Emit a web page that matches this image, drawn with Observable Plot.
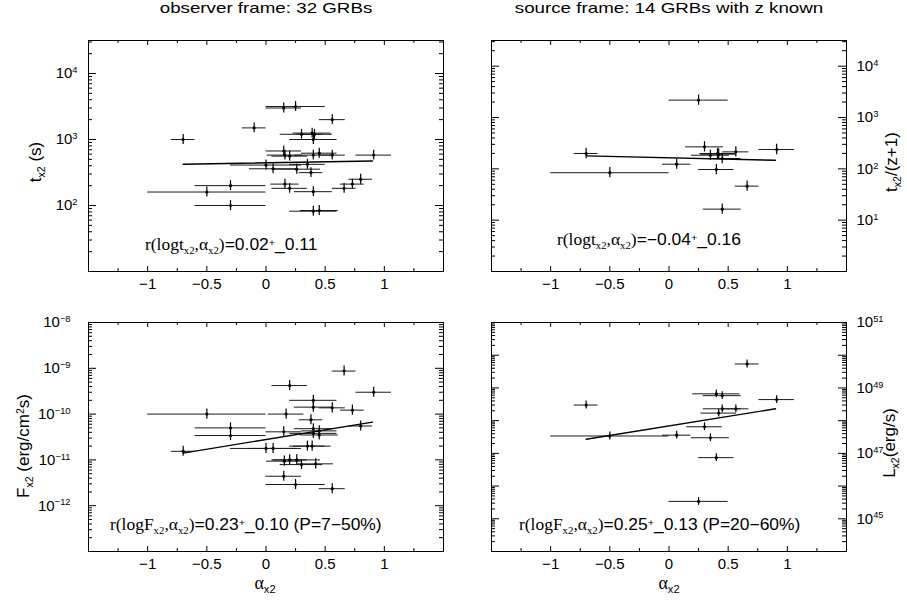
<!DOCTYPE html>
<html><head><meta charset="utf-8">
<script src="https://cdn.jsdelivr.net/npm/d3@7"></script>
<script src="https://cdn.jsdelivr.net/npm/@observablehq/plot@0.6"></script>
<style>
body{margin:0;background:#fff;}
#c{position:relative;width:907px;height:601px;overflow:hidden;font-family:"Liberation Sans",Arial,Helvetica,sans-serif;color:#000;}
.p{position:absolute;}
.t{position:absolute;white-space:nowrap;line-height:1;}
.s{font-family:"Liberation Serif","Times New Roman",serif;}
.t sub{font-size:0.62em;position:relative;vertical-align:baseline;top:0.35em;}
.t sup{font-size:0.62em;position:relative;vertical-align:baseline;top:-0.5em;}
</style></head><body><div id="c"></div>
<script>
// ---------- shared axis definitions ----------
const xDomain = [-1.5, 1.5];
const xTickLabels = [-1, -0.5, 0, 0.5, 1];
const xMinorTicks = [-1.25, -0.75, -0.25, 0.25, 0.75, 1.25];

// ---------- observer frame: t_x2 (32 GRBs) ----------
const obsAlpha    = [-0.70,-0.50,-0.30,-0.30,-0.10,0.00,0.06,0.15,0.15,0.16,0.16,0.20,0.20,0.25,0.26,0.30,0.35,0.38,0.39,0.40,0.40,0.40,0.40,0.41,0.45,0.45,0.56,0.56,0.66,0.73,0.80,0.91];
const obsAlphaErr = [0.10,0.50,0.30,0.30,0.10,0.30,0.20,0.15,0.15,0.15,0.12,0.15,0.15,0.25,0.20,0.18,0.15,0.10,0.16,0.20,0.16,0.16,0.20,0.15,0.15,0.16,0.11,0.11,0.10,0.10,0.10,0.15];
const obsTx2      = [1000,160,200,100,1500,410,360,3000,670,580,211,560,182,3160,355,1200,420,315,1250,1000,580,162,82,1200,620,84,2000,580,182,211,250,580];
const obsTFitX = [-0.70, 0.90];
const obsTFitY = [422, 473];

// ---------- observer frame: F_x2 ----------
const fluxAlpha    = [-0.70,-0.50,-0.30,-0.30,0.00,0.06,0.15,0.15,0.155,0.17,0.20,0.20,0.25,0.26,0.30,0.35,0.38,0.39,0.40,0.40,0.40,0.40,0.42,0.45,0.45,0.56,0.56,0.66,0.73,0.80,0.91];
const fluxAlphaErr = [0.10,0.50,0.30,0.30,0.30,0.20,0.15,0.15,0.15,0.15,0.15,0.15,0.25,0.20,0.18,0.15,0.10,0.16,0.20,0.16,0.16,0.20,0.15,0.15,0.16,0.11,0.11,0.10,0.10,0.10,0.15];
const fluxFx2      = [1.54e-11,1.0e-10,5.0e-11,3.4e-11,1.78e-11,1.78e-11,4.1e-11,4.4e-12,9.4e-12,1.0e-10,4.2e-10,1.0e-11,2.9e-12,1.0e-11,7.9e-12,2.0e-11,7.5e-11,2.0e-11,2.0e-10,1.42e-10,4.8e-11,3.8e-11,8.2e-12,4.3e-11,3.5e-11,1.37e-10,2.35e-12,8.7e-10,1.22e-10,5.5e-11,3.0e-10];
const fluxFitX = [-0.70, 0.90];
const fluxFitY = [1.41e-11, 6.7e-11];

// ---------- source frame: t_x2/(z+1) (14 GRBs) ----------
const srcAlpha    = [-0.70,-0.50,0.065,0.25,0.30,0.35,0.40,0.41,0.42,0.45,0.45,0.565,0.66,0.91];
const srcAlphaErr = [0.10,0.50,0.12,0.25,0.16,0.16,0.15,0.15,0.15,0.16,0.16,0.11,0.10,0.15];
const srcTx2z     = [199,84,123,2180,268,184,97,199,193,159,16.4,214,46,238];
const srcTFitX = [-0.70, 0.90];
const srcTFitY = [179, 147];

// ---------- source frame: L_x2 ----------
const lumAlpha    = [-0.70,-0.50,0.065,0.25,0.30,0.35,0.40,0.40,0.42,0.45,0.45,0.565,0.66,0.91];
const lumAlphaErr = [0.10,0.50,0.12,0.25,0.15,0.16,0.20,0.15,0.15,0.16,0.16,0.11,0.10,0.15];
const lumLx2      = [3.0e48,3.4e47,3.6e47,3.4e45,6.5e47,3.0e47,6.6e48,7.4e46,1.7e48,5.8e48,2.3e48,2.3e48,5.4e49,4.4e48];
const lumFitX = [-0.70, 0.90];
const lumFitY = [2.7e47, 2.3e48];

// y tick labels
const tObsLabels = [1e2, 1e3, 1e4];
const tSrcLabels = [1e1, 1e2, 1e3, 1e4];
const fLabels = [1e-12, 1e-11, 1e-10, 1e-9, 1e-8];
const lLabels = [1e45, 1e47, 1e49, 1e51];

const fmtX = d => d < 0 ? "\u2212" + Math.abs(d) : String(d);
const fmtPow = d => { const e = Math.round(Math.log10(d)); return "10^" + (e < 0 ? "\u2212" + (-e) : e); };

function supify(svg) {
  d3.select(svg).selectAll("text").each(function () {
    const s = this.textContent; const i = s.indexOf("^");
    if (i < 0) return;
    const el = d3.select(this); el.text(null);
    el.append("tspan").text(s.slice(0, i));
    el.append("tspan").attr("dy", "-0.55em").attr("font-size", "0.62em").text(s.slice(i + 1));
  });
}

function panel(cfg) {
  const {left, top, width, height, m, yDomain, yLabels, anchor, pad, alpha, alphaErr, yv, yErrDex, fitX, fitY} = cfg;
  const fw = width - m.left - m.right, fh = height - m.top - m.bottom;
  const rows = alpha.map((a, i) => ({a, ae: alphaErr[i], y: yv[i]}));
  const fit = fitX.map((x, i) => ({x, y: fitY[i]}));
  const lo = Math.floor(Math.log10(yDomain[0]) + 1e-9), hi = Math.ceil(Math.log10(yDomain[1]) - 1e-9);
  const yMajor = [], yMinor = [];
  for (let d = lo; d <= hi; d++) {
    const v = Math.pow(10, d);
    if (v > yDomain[0] * 1.0001 && v < yDomain[1] * 0.9999) yMajor.push(v);
    for (let k = 2; k <= 9; k++) { const w = k * v; if (w > yDomain[0] && w < yDomain[1] * 0.9999) yMinor.push(w); }
  }
  const f = 10 ** yErrDex;
  const svg = Plot.plot({
    width, height,
    marginTop: m.top, marginRight: m.right, marginBottom: m.bottom, marginLeft: m.left,
    x: {domain: xDomain, label: null},
    y: {type: "log", domain: yDomain, label: null},
    style: {background: "transparent", fontFamily: "'Liberation Sans', Arial, sans-serif", fontSize: "15px", color: "#000", overflow: "visible"},
    marks: [
      Plot.tickX(xTickLabels, {x: d => d, insetTop: fh - 5, stroke: "#000"}),
      Plot.tickX(xMinorTicks, {x: d => d, insetTop: fh - 3, stroke: "#000"}),
      Plot.tickX(xTickLabels, {x: d => d, insetBottom: fh - 5, stroke: "#000"}),
      Plot.tickX(xMinorTicks, {x: d => d, insetBottom: fh - 3, stroke: "#000"}),
      Plot.tickY(yMajor, {y: d => d, insetRight: fw - 8, stroke: "#000"}),
      Plot.tickY(yMajor, {y: d => d, insetLeft: fw - 8, stroke: "#000"}),
      Plot.tickY(yMinor, {y: d => d, insetRight: fw - 4, stroke: "#000"}),
      Plot.tickY(yMinor, {y: d => d, insetLeft: fw - 4, stroke: "#000"}),
      Plot.axisX(xTickLabels, {anchor: "bottom", tickSize: 0, tickPadding: 7, tickFormat: fmtX, label: null, fontSize: 15}),
      Plot.axisY(yLabels, {anchor, tickSize: 0, tickPadding: pad, tickFormat: fmtPow, label: null, fontSize: 15}),
      Plot.ruleY(rows, {y: "y", x1: d => d.a - d.ae, x2: d => d.a + d.ae, stroke: "#1a1a1a", strokeWidth: 1}),
      Plot.ruleX(rows, {x: "a", y1: d => d.y / f, y2: d => d.y * f, stroke: "#000", strokeWidth: 1.2}),
      Plot.dot(rows, {x: "a", y: "y", r: 1.6, fill: "#000"}),
      Plot.line(fit, {x: "x", y: "y", stroke: "#000", strokeWidth: 1.4}),
      Plot.frame({stroke: "#000", strokeWidth: 1})
    ]
  });
  supify(svg);
  const wrap = document.createElement("div");
  wrap.className = "p"; wrap.style.left = left + "px"; wrap.style.top = top + "px";
  wrap.appendChild(svg);
  document.getElementById("c").appendChild(wrap);
}

panel({left: 0, top: 0, width: 453, height: 300, m: {top: 40, right: 10, bottom: 29, left: 88},
  yDomain: [10, 10 ** 4.5], yLabels: tObsLabels, anchor: "left", pad: 11,
  alpha: obsAlpha, alphaErr: obsAlphaErr, yv: obsTx2, yErrDex: 0.075, fitX: obsTFitX, fitY: obsTFitY});
panel({left: 453, top: 0, width: 454, height: 300, m: {top: 40, right: 61, bottom: 29, left: 38},
  yDomain: [1, 10 ** 4.5], yLabels: tSrcLabels, anchor: "right", pad: 10,
  alpha: srcAlpha, alphaErr: srcAlphaErr, yv: srcTx2z, yErrDex: 0.1, fitX: srcTFitX, fitY: srcTFitY});
panel({left: 0, top: 300, width: 453, height: 301, m: {top: 22, right: 10, bottom: 50, left: 88},
  yDomain: [1e-13, 1e-8], yLabels: fLabels, anchor: "left", pad: 18,
  alpha: fluxAlpha, alphaErr: fluxAlphaErr, yv: fluxFx2, yErrDex: 0.11, fitX: fluxFitX, fitY: fluxFitY});
panel({left: 453, top: 300, width: 454, height: 301, m: {top: 22, right: 61, bottom: 50, left: 38},
  yDomain: [1e44, 1e51], yLabels: lLabels, anchor: "right", pad: 10,
  alpha: lumAlpha, alphaErr: lumAlphaErr, yv: lumLx2, yErrDex: 0.12, fitX: lumFitX, fitY: lumFitY});

// ---------- text ----------
const C = document.getElementById("c");
function place(html, o) {
  const d = document.createElement("div");
  d.className = "t"; d.innerHTML = html;
  const s = o.size || 16;
  d.style.fontSize = s + "px";
  if (o.rotate) {
    d.style.left = o.x + "px"; d.style.top = o.y + "px";
    d.style.transform = "translate(-50%,-50%) rotate(-90deg)";
  } else {
    d.style.left = o.x + "px"; d.style.top = (o.y - 0.846 * s) + "px";
    const tx = o.anchor === "middle" ? "translateX(-50%)" : "";
    const sx = o.scaleX ? ` scaleX(${o.scaleX})` : "";
    d.style.transform = tx + sx;
    d.style.transformOrigin = o.anchor === "middle" ? "50% 50%" : "0 50%";
  }
  C.appendChild(d);
}
place("observer frame: 32 GRBs", {x: 266, y: 13, size: 15, anchor: "middle", scaleX: 1.25});
place("source frame: 14 GRBs with z known", {x: 669, y: 13, size: 15, anchor: "middle", scaleX: 1.25});

place('<span class="s">r(logt<sub>x2</sub>,α<sub>x2</sub>)</span>=0.02<sup>+</sup>_0.11', {x: 145, y: 251, size: 16, scaleX: 1.09});
place('<span class="s">r(logt<sub>x2</sub>,α<sub>x2</sub>)</span>=\u22120.04<sup>+</sup>_0.16', {x: 557, y: 246, size: 16, scaleX: 1.09});
place('<span class="s">r(logF<sub>x2</sub>,α<sub>x2</sub>)</span>=0.23<sup>+</sup>_0.10 (P=7\u221250%)', {x: 110, y: 531, size: 16, scaleX: 1.09});
place('<span class="s">r(logF<sub>x2</sub>,α<sub>x2</sub>)</span>=0.25<sup>+</sup>_0.13 (P=20\u221260%)', {x: 519, y: 531, size: 16, scaleX: 1.09});

place('t<sub>x2</sub> (s)', {x: 35, y: 162, size: 17, rotate: true});
place('F<sub>x2</sub> (erg/cm<sup>2</sup>s)', {x: 23, y: 446, size: 17, rotate: true});
place('t<sub>x2</sub>/(z+1)', {x: 891, y: 162, size: 17, rotate: true});
place('L<sub>x2</sub>(erg/s)', {x: 889, y: 443, size: 17, rotate: true});

place('<span class="s">α</span><sub>x2</sub>', {x: 265, y: 589, size: 18, anchor: "middle"});
place('<span class="s">α</span><sub>x2</sub>', {x: 669, y: 589, size: 18, anchor: "middle"});
</script></body></html>
